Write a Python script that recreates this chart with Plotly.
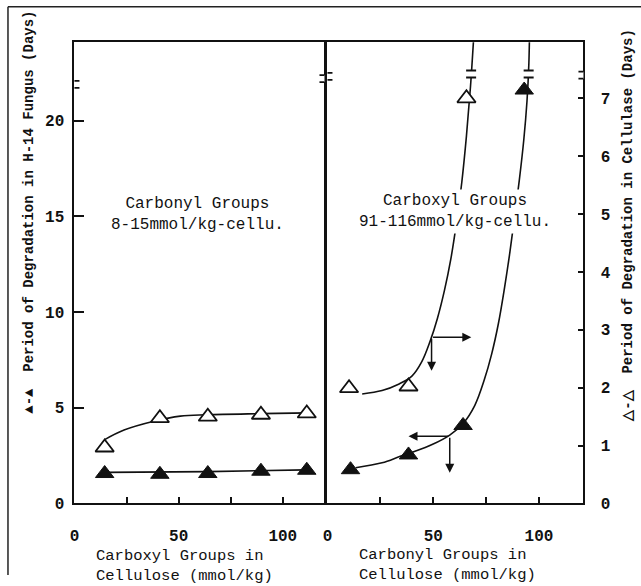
import plotly.graph_objects as go

# ---------------- data ----------------
# Left panel: x = carboxyl groups (mmol/kg), y = days (left axis, H-14 fungus)
left_x = [14.5, 41, 64, 89.5, 111.5]
left_open_y = [2.92, 4.45, 4.53, 4.63, 4.70]
left_filled_y = [1.56, 1.52, 1.56, 1.68, 1.73]
left_open_curve_x = [14.3, 23.8, 38.1, 50.8, 63.5, 89.5, 112.7]
left_open_curve_y = [3.32, 3.83, 4.29, 4.56, 4.63, 4.69, 4.73]
left_filled_curve_x = [15, 64, 111]
left_filled_curve_y = [1.62, 1.66, 1.75]

# Right panel: x = carbonyl groups (mmol/kg)
right_open_x = [10.2, 38.3, 65.7]          # cellulase days (right axis)
right_open_y = [1.99, 2.02, 7.00]
right_filled_x = [10.9, 38.3, 64.1, 93.0]  # H-14 fungus days (left scale)
right_filled_y = [1.76, 2.53, 4.07, 21.6]
right_open_curve_x = [16.4, 25.8, 33.6, 39.9, 44.6, 48.5, 52.0, 55.3, 58.3, 61.0, 63.5, 65.7, 67.6, 69.2]
right_open_curve_y = [1.89, 1.95, 2.06, 2.20, 2.45, 2.80, 3.20, 3.68, 4.22, 4.85, 5.55, 6.35, 7.20, 8.10]
right_filled_curve_x = [13.3, 25.8, 34.4, 41.4, 49.2, 57.8, 64.1, 69.6, 74.2, 77.6, 80.8, 83.6, 86.2,
                        88.5, 90.7, 92.8, 94.3, 95.2, 95.6]
right_filled_curve_y = [1.86, 2.12, 2.46, 2.72, 3.06, 3.57, 4.17, 5.11, 6.48, 7.80, 9.40, 11.2, 13.1,
                        15.0, 16.9, 19.0, 21.0, 23.0, 25.3]

left_yticks = [0, 5, 10, 15, 20]
right_yticks = [0, 1, 2, 3, 4, 5, 6, 7]
x_tickvals = [0, 25, 50, 75, 100]
x_ticktext = ["0", "", "50", "", "100"]

W, H = 641, 586
FONT = "Liberation Mono"
BLACK = "#111111"


def px(x):
    return x / W


def py(y):
    return 1 - y / H


fig = go.Figure()

line_style = dict(color=BLACK, width=1.6)
open_marker = dict(symbol="triangle-up", size=16, color="white", line=dict(color=BLACK, width=1.8))
filled_marker = dict(symbol="triangle-up", size=16, color=BLACK, line=dict(color=BLACK, width=1))

# left panel
fig.add_trace(go.Scatter(x=left_open_curve_x, y=left_open_curve_y, mode="lines",
                         line=dict(shape="spline", **line_style), xaxis="x", yaxis="y"))
fig.add_trace(go.Scatter(x=left_filled_curve_x, y=left_filled_curve_y, mode="lines",
                         line=dict(shape="spline", **line_style), xaxis="x", yaxis="y"))
fig.add_trace(go.Scatter(x=left_x, y=left_open_y, mode="markers", marker=open_marker, xaxis="x", yaxis="y"))
fig.add_trace(go.Scatter(x=left_x, y=left_filled_y, mode="markers", marker=filled_marker, xaxis="x", yaxis="y"))

# right panel
fig.add_trace(go.Scatter(x=right_open_curve_x, y=right_open_curve_y, mode="lines",
                         line=dict(shape="spline", **line_style), xaxis="x2", yaxis="y2"))
fig.add_trace(go.Scatter(x=right_filled_curve_x, y=right_filled_curve_y, mode="lines",
                         line=dict(shape="spline", **line_style), xaxis="x2", yaxis="y3"))
fig.add_trace(go.Scatter(x=right_open_x, y=right_open_y, mode="markers", marker=open_marker, xaxis="x2", yaxis="y2"))
fig.add_trace(go.Scatter(x=right_filled_x, y=right_filled_y, mode="markers", marker=filled_marker, xaxis="x2", yaxis="y3"))

tickfont = dict(family=FONT, size=16, color=BLACK, weight="bold")
ydom = [py(513), py(43)]
common_axis = dict(showline=True, linecolor=BLACK, linewidth=2, mirror=True, showgrid=False,
                   zeroline=False, ticks="inside", tickcolor=BLACK, tickwidth=1.5, tickfont=tickfont)

fig.update_layout(
    width=W, height=H, margin=dict(l=0, r=0, t=0, b=0),
    paper_bgcolor="white", plot_bgcolor="white", showlegend=False,
    xaxis=dict(domain=[px(70), px(322)], range=[0, 120], anchor="y", tickvals=x_tickvals,
               ticktext=x_ticktext, ticklen=6, ticklabelstandoff=16, **common_axis),
    yaxis=dict(domain=ydom, range=[0, 24.1], anchor="x", tickvals=left_yticks, ticklen=10,
               ticklabelstandoff=5, **common_axis),
    xaxis2=dict(domain=[px(325), px(583)], range=[0, 121], anchor="y2", tickvals=x_tickvals,
                ticktext=x_ticktext, ticklen=6, ticklabelstandoff=16, **common_axis),
    yaxis2=dict(domain=ydom, range=[0, 7.97], anchor="x2", side="right", tickvals=right_yticks,
                ticklen=5, ticklabelstandoff=12, **common_axis),
    yaxis3=dict(domain=ydom, range=[0, 24.1], anchor="x2", overlaying="y2", visible=False),
)

# ---------------- axis breaks ----------------
shapes = []


def add_break(xref, yref, xv, yv, gap=7, w=10):
    base = dict(xref=xref, yref=yref, xsizemode="pixel", ysizemode="pixel", xanchor=xv, yanchor=yv)
    shapes.append(dict(type="rect", x0=-4, x1=4, y0=-gap / 2, y1=gap / 2,
                       fillcolor="white", line=dict(width=0), **base))
    for s in (-1, 1):
        shapes.append(dict(type="line", x0=-w / 2, x1=w / 2, y0=s * gap / 2, y1=s * gap / 2,
                           line=dict(color=BLACK, width=1.8), **base))


add_break("x", "y", 0, 21.9)
add_break("x", "y", 120, 22.2)
add_break("x2", "y2", 0, 7.38)
add_break("x2", "y2", 121, 7.40)
add_break("x2", "y2", 67.9, 7.42)
add_break("x2", "y2", 95.1, 7.42)

# outer frame of the scanned figure
shapes.append(dict(type="line", xref="paper", yref="paper", x0=px(3), x1=1, y0=py(7), y1=py(7),
                   line=dict(color="#222222", width=1.5)))
shapes.append(dict(type="line", xref="paper", yref="paper", x0=px(3), x1=px(3), y0=py(7), y1=0,
                   line=dict(color="#222222", width=1.5)))
fig.update_layout(shapes=shapes)

# ---------------- annotations ----------------
txt = dict(family=FONT, size=16, color=BLACK)
ann = []
ann.append(dict(xref="x", yref="y", x=59, y=15.1, text="Carbonyl Groups<br>8-15mmol/kg-cellu.",
                showarrow=False, font=txt))
ann.append(dict(xref="x2", yref="y2", x=60.5, y=5.04, text="Carboxyl Groups<br>91-116mmol/kg-cellu.",
                showarrow=False, font=txt, bgcolor="white", borderpad=2))

# x-axis titles
xt = dict(family=FONT, size=15.5, color=BLACK)
ann.append(dict(xref="paper", yref="paper", x=px(90), y=py(577), xanchor="left", yanchor="middle",
                align="left", text="Carboxyl Groups in<br>Cellulose (mmol/kg)", showarrow=False, font=xt))
ann.append(dict(xref="paper", yref="paper", x=px(355), y=py(576), xanchor="left", yanchor="middle",
                align="left", text="Carbonyl Groups in<br>Cellulose (mmol/kg)", showarrow=False, font=xt))

# y-axis titles
ytfont = dict(family=FONT, size=14, color=BLACK, weight="bold")
ann.append(dict(xref="paper", yref="paper", x=px(24), y=py(216), textangle=-90, xanchor="center",
                yanchor="middle", text="▲-▲  Period of Degradation in H-14 Fungus (Days)",
                showarrow=False, font=ytfont))
ann.append(dict(xref="paper", yref="paper", x=px(628), y=py(230), textangle=-90, xanchor="center",
                yanchor="middle", text="△-△  Period of Degradation in Cellulase (Days)",
                showarrow=False, font=ytfont))

# arrows indicating which axis each curve uses
arrow = dict(showarrow=True, arrowhead=2, arrowsize=1.2, arrowwidth=1.5, arrowcolor=BLACK, text="",
             xref="x2", yref="y2", axref="x2", ayref="y2")
ann.append(dict(x=68.0, y=2.87, ax=49.2, ay=2.87, **arrow))
ann.append(dict(x=49.2, y=2.29, ax=49.2, ay=2.87, **arrow))
ann.append(dict(x=38.3, y=1.16, ax=57.8, ay=1.16, **arrow))
ann.append(dict(x=57.8, y=0.53, ax=57.8, ay=1.16, **arrow))

fig.update_layout(annotations=ann)

fig.write_html("out.html", config={"displayModeBar": False},
               post_script="document.body.style.margin='0';document.body.style.overflow='hidden';")
